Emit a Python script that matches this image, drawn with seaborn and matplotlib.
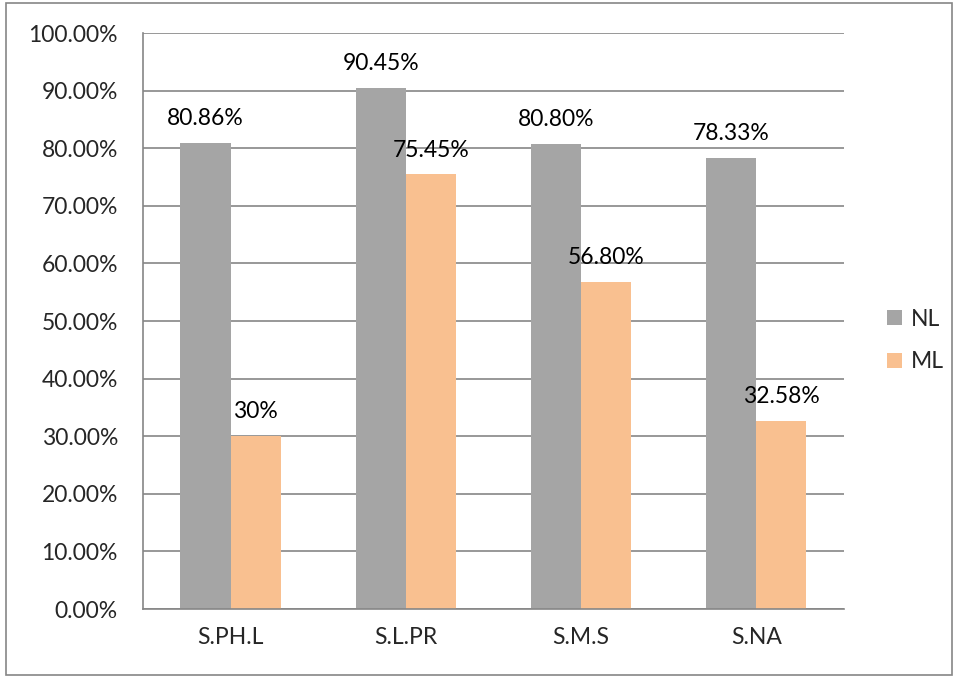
import matplotlib
matplotlib.use("Agg")
import matplotlib.pyplot as plt
from matplotlib.patches import Rectangle, Patch
from matplotlib.ticker import FixedLocator, PercentFormatter
import pandas as pd
import seaborn as sns

categories = ["S.PH.L", "S.L.PR", "S.M.S", "S.NA"]
nl_values = [80.86, 90.45, 80.80, 78.33]
ml_values = [30.00, 75.45, 56.80, 32.58]
nl_labels = ["80.86%", "90.45%", "80.80%", "78.33%"]
ml_labels = ["30%", "75.45%", "56.80%", "32.58%"]
series = ["NL", "ML"]
colors = {"NL": "#A5A5A5", "ML": "#F9C090"}

df = pd.DataFrame({
    "category": categories * 2,
    "series": ["NL"] * 4 + ["ML"] * 4,
    "value": [v / 100 for v in nl_values + ml_values],
})

FS = 16.5

sns.set_style("white")
plt.rcParams["font.family"] = ["Lato", "DejaVu Sans"]
plt.rcParams["font.size"] = FS

fig = plt.figure(figsize=(9.57, 6.77), dpi=100)
ax = fig.add_axes([0.1494, 0.1004, 0.7325, 0.8508])

sns.barplot(data=df, x="category", y="value", hue="series", order=categories,
            hue_order=series, palette=colors, width=0.572, gap=0,
            saturation=1, legend=False, ax=ax, linewidth=0)

ax.set_ylim(0, 1)
ax.set_xlim(-0.5, 3.5)
ax.yaxis.set_major_locator(FixedLocator([i / 10 for i in range(11)]))
ax.yaxis.set_major_formatter(PercentFormatter(1.0, decimals=2))
ax.yaxis.grid(True, color="#868686", linewidth=1.2)
ax.set_axisbelow(True)
ax.set_xlabel("")
ax.set_ylabel("")

for s in ["top", "right"]:
    ax.spines[s].set_visible(False)
for s in ["left", "bottom"]:
    ax.spines[s].set_color("#868686")
    ax.spines[s].set_linewidth(1.2)

ax.tick_params(axis="y", length=6, width=1.2, color="#868686", pad=12, labelsize=FS)
ax.tick_params(axis="x", which="major", length=0, pad=13, labelsize=FS)
ax.xaxis.set_minor_locator(FixedLocator([-0.5, 0.5, 1.5, 2.5, 3.5]))
ax.tick_params(axis="x", which="minor", length=5, width=1.2, color="#868686", direction="out")

# value labels above each bar
for cont, labels in zip(ax.containers, [nl_labels, ml_labels]):
    ax.bar_label(cont, labels=labels, padding=10, fontsize=FS, color="black")

handles = [Patch(facecolor=colors[s], edgecolor="none", label=s) for s in series]
fig.legend(handles=handles, loc="center left", bbox_to_anchor=(0.927, 0.497),
           frameon=False, borderpad=0, borderaxespad=0,
           handlelength=0.65, handleheight=0.65, handletextpad=0.4,
           labelspacing=0.95, fontsize=FS)

# outer chart border
fig.patches.append(Rectangle((0.0063, 0.0030), 0.9885, 0.9926, transform=fig.transFigure,
                             fill=False, edgecolor="#868686", linewidth=1.2))

fig.savefig("out.png", dpi=100, facecolor="white")
